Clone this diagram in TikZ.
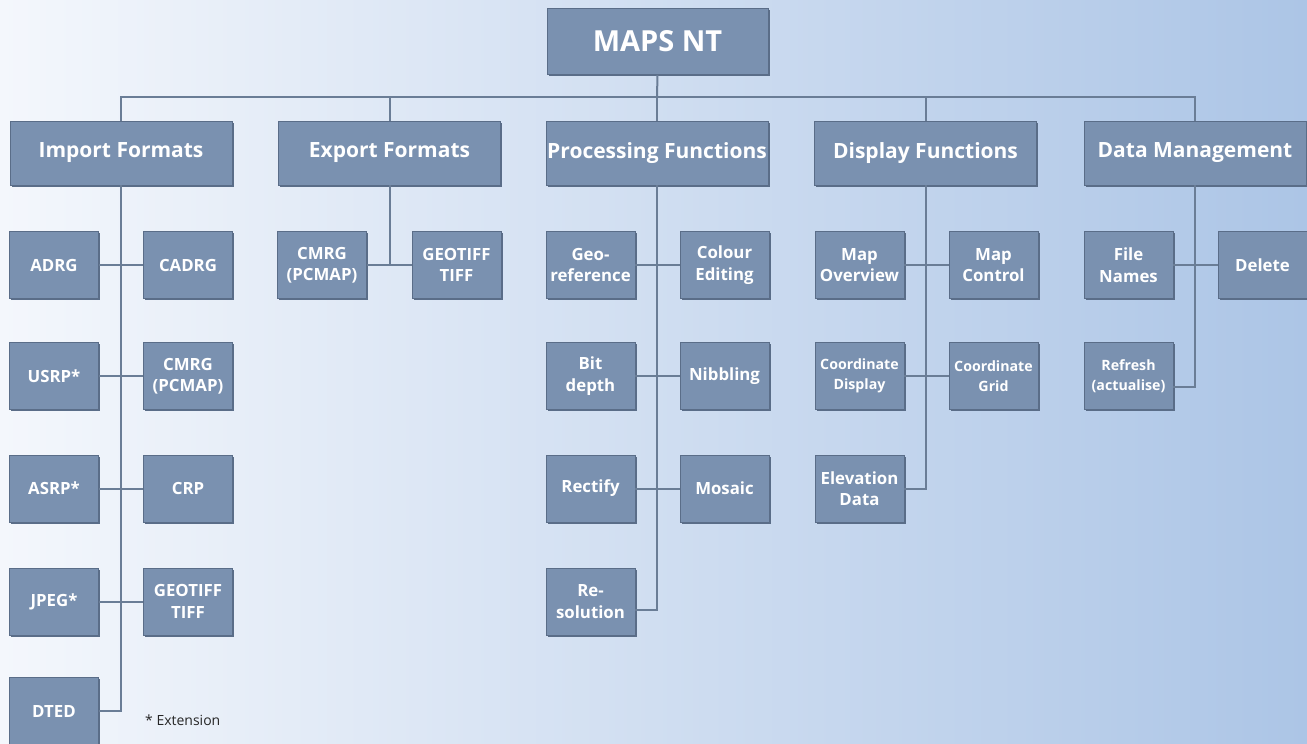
\documentclass[tikz,border=0pt]{standalone}
\usepackage{fontspec}
\setmainfont{Open Sans}
\usetikzlibrary{shadows}
\definecolor{boxblue}{HTML}{7A91B0}
\definecolor{boxdark}{HTML}{5A6D88}
\definecolor{linecol}{HTML}{6A7D96}
\definecolor{bgleft}{HTML}{F4F7FC}
\definecolor{bgmid}{HTML}{D6E2F2}
\definecolor{bgright}{HTML}{ACC5E6}
\tikzset{
  box/.style={fill=boxblue, draw=boxdark, line width=0.6pt, text=white, font=\bfseries,
    align=center, inner sep=0pt,
    drop shadow={shadow xshift=1.6pt, shadow yshift=-1.8pt, fill=boxdark, opacity=1}},
  topbox/.style={box, minimum width=221pt, minimum height=66pt, font=\bfseries\fontsize{29}{32}\selectfont},
  mainbox/.style={box, minimum width=222pt, minimum height=64pt, font=\bfseries\fontsize{21}{24}\selectfont},
  leaf/.style={box, minimum width=89pt, minimum height=67pt, font=\bfseries\fontsize{16.8}{21.5}\selectfont},
  smallleaf/.style={leaf, font=\bfseries\fontsize{14.2}{19.5}\selectfont},
  conn/.style={draw=linecol, line width=2pt},
}
\begin{document}
\begin{tikzpicture}[x=1pt,y=-1pt]
\shade[left color=bgleft, middle color=bgmid, right color=bgright] (0,0) rectangle (1307,744);
\useasboundingbox (0,0) rectangle (1307,744);

% top
\node[topbox] (root) at (657.5,41.5) {MAPS NT};

% level 1
\node[mainbox] (imp)  at (121,153)   {Import Formats};
\node[mainbox] (exp)  at (389.5,153) {Export Formats};
\node[mainbox] (proc) at (657,153)   {Processing Functions};
\node[mainbox] (disp) at (925.5,153) {Display Functions};
\node[mainbox] (dm)   at (1195,153)  {Data Management};

% Import leaves
\node[leaf] (adrg)  at (54,265)   {ADRG};
\node[leaf] (cadrg) at (188,265)  {CADRG};
\node[leaf] (usrp)  at (54,376)   {USRP*};
\node[leaf] (cmrgi) at (188,376)  {CMRG\\(PCMAP)};
\node[leaf] (asrp)  at (54,488.5) {ASRP*};
\node[leaf] (crp)   at (188,488.5){CRP};
\node[leaf] (jpeg)  at (54,601.5) {JPEG*};
\node[leaf] (geoi)  at (188,601.5){GEOTIFF\\TIFF};
\node[leaf] (dted)  at (54,711)   {DTED};

% Export leaves
\node[leaf] (cmrge) at (322,265)  {CMRG\\(PCMAP)};
\node[leaf] (geoe)  at (456.5,265){GEOTIFF\\TIFF};

% Processing leaves
\node[leaf] (georef) at (590.5,265)  {Geo-\\reference};
\node[leaf] (colour) at (724.5,265)  {Colour\\Editing};
\node[leaf] (bit)    at (590.5,376)  {Bit\\depth};
\node[leaf] (nib)    at (724.5,376)  {Nibbling};
\node[leaf] (rect)   at (590.5,488.5){Rectify};
\node[leaf] (mosaic) at (724.5,488.5){Mosaic};
\node[leaf] (reso)   at (590.5,601.5){Re-\\solution};

% Display leaves
\node[leaf] (mapov)  at (859.5,265)  {Map\\Overview};
\node[leaf] (mapct)  at (993.5,265)  {Map\\Control};
\node[smallleaf] (coordd) at (859.5,376)  {Coordinate\\Display};
\node[smallleaf] (coordg) at (993.5,376)  {Coordinate\\Grid};
\node[leaf] (elev)   at (859.5,488.5){Elevation\\Data};

% Data management leaves
\node[leaf] (fname)  at (1128.5,265) {File\\Names};
\node[leaf] (del)    at (1262.5,265) {Delete};
\node[smallleaf] (refresh) at (1128.5,376) {Refresh\\(actualise)};

% footnote
\node[anchor=base west, inner sep=0pt, text=black!85, font=\fontsize{14}{17}\selectfont] (ext) at (145,725) {* Extension};

% connectors: bus
\coordinate (bus) at (657,97);
\draw[conn] (root.south) -- (bus);
\draw[conn] (imp.north) |- (bus) -| (dm.north);
\draw[conn] (exp.north) -- (exp.north |- bus);
\draw[conn] (proc.north) -- (proc.north |- bus);
\draw[conn] (disp.north) -- (disp.north |- bus);

% trunks
\coordinate (impend) at (imp.south |- dted.east);
\draw[conn] (imp.south) -- (impend) -- (dted.east);
\draw[conn] (adrg.east) -- (cadrg.west);
\draw[conn] (usrp.east) -- (cmrgi.west);
\draw[conn] (asrp.east) -- (crp.west);
\draw[conn] (jpeg.east) -- (geoi.west);

\coordinate (expend) at (exp.south |- cmrge.east);
\draw[conn] (exp.south) -- (expend);
\draw[conn] (cmrge.east) -- (geoe.west);

\coordinate (procend) at ([yshift=-8.5pt]proc.south |- reso.east);
\draw[conn] (proc.south) -- (procend) -- (procend -| reso.east);
\draw[conn] (georef.east) -- (colour.west);
\draw[conn] (bit.east) -- (nib.west);
\draw[conn] (rect.east) -- (mosaic.west);

\coordinate (dispend) at (disp.south |- elev.east);
\draw[conn] (disp.south) -- (dispend) -- (elev.east);
\draw[conn] (mapov.east) -- (mapct.west);
\draw[conn] (coordd.east) -- (coordg.west);

\coordinate (dmend) at ([yshift=-10.5pt]dm.south |- refresh.east);
\draw[conn] (dm.south) -- (dmend) -- (dmend -| refresh.east);
\draw[conn] (fname.east) -- (del.west);
\end{tikzpicture}
\end{document}
